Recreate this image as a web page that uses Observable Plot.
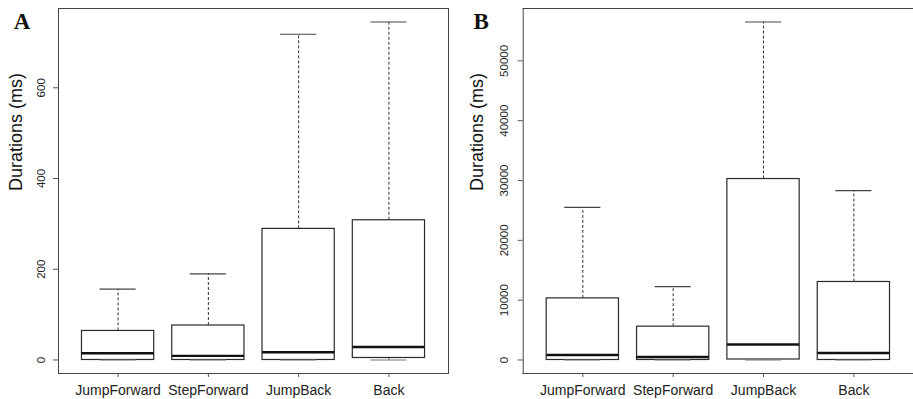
<!DOCTYPE html>
<html>
<head>
<meta charset="utf-8">
<script src="https://cdn.jsdelivr.net/npm/d3@7"></script>
<script src="https://cdn.jsdelivr.net/npm/@observablehq/plot@0.6"></script>
<style>
  html, body { margin: 0; padding: 0; background: #fff; }
  #wrap { display: flex; flex-direction: row; width: 913px; height: 399px; overflow: hidden; }
  svg { font-family: "Liberation Sans", Arial, sans-serif; }
</style>
</head>
<body>
<div id="wrap"></div>
<script>
// ---- data ----
const categories = ["JumpForward", "StepForward", "JumpBack", "Back"];

// Panel A (ms)
const aLow    = [0, 0, 0, 0];
const aQ1     = [0, 0, 0, 4.4];
const aMedian = [15, 9, 17, 28.5];
const aQ3     = [64, 76, 289, 308];
const aHigh   = [156, 190, 718, 745];
const aTicks  = [0, 200, 400, 600];

// Panel B (ms)
const bLow    = [0, 0, 0, 0];
const bQ1     = [0, 0, 80, 0];
const bMedian = [840, 500, 2600, 1170];
const bQ3     = [10300, 5570, 30250, 13040];
const bHigh   = [25500, 12250, 56500, 28300];
const bTicks  = [0, 10000, 20000, 30000, 40000, 50000];

const yLabel = "Durations (ms)";

function rowsFor(lo, q1, med, q3, hi) {
  return categories.map((c, i) => ({pos: i + 1, name: c, lo: lo[i], q1: q1[i], median: med[i], q3: q3[i], hi: hi[i]}));
}

function panel({rows, ticks, letter, width, marginLeft, marginRight, fullFrame, letterDx, labelDx, tickDx}) {
  const lo = d3.min(rows, d => d.lo), hi = d3.max(rows, d => d.hi);
  const pad = (hi - lo) * 0.04;
  const frames = fullFrame
    ? [Plot.frame({stroke: "#444"})]
    : [Plot.frame({anchor: "top", stroke: "#444"}), Plot.frame({anchor: "left", stroke: "#444"}), Plot.frame({anchor: "bottom", stroke: "#444"})];
  const svg = Plot.plot({
    width, height: 399,
    marginLeft, marginRight, marginTop: 8, marginBottom: 26,
    style: {color: "#222", background: "white", overflow: "visible"},
    x: {type: "linear", domain: [0.34, 4.66], axis: null, label: null},
    y: {type: "linear", domain: [lo - pad, hi + pad], axis: null, label: null},
    marks: [
      ...frames,
      Plot.axisX([1, 2, 3, 4], {tickSize: 4, tickPadding: 8, fontSize: 14, label: null, tickFormat: d => categories[d - 1], stroke: "#555"}),
      Plot.axisY(ticks, {tickSize: 5, label: null, tickFormat: () => "", stroke: "#555"}),
      Plot.text(ticks, {y: d => d, frameAnchor: "left", dx: tickDx, rotate: -90, textAnchor: "middle", lineAnchor: "middle",
        fontSize: 11.5, fill: "#222", text: d => String(d)}),
      // whiskers
      Plot.ruleX(rows, {x: "pos", y1: "q3", y2: "hi", stroke: "#333", strokeWidth: 1, strokeDasharray: "3,2"}),
      Plot.ruleX(rows, {x: "pos", y1: "lo", y2: "q1", stroke: "#333", strokeWidth: 1, strokeDasharray: "3,2"}),
      // boxes
      Plot.rect(rows, {x1: d => d.pos - 0.4, x2: d => d.pos + 0.4, y1: "q1", y2: "q3", fill: "white", stroke: "#2a2a2a", strokeWidth: 1.2}),
      // caps
      Plot.ruleY(rows, {y: "hi", x1: d => d.pos - 0.2, x2: d => d.pos + 0.2, stroke: "#444", strokeWidth: 1.2}),
      Plot.ruleY(rows, {y: "lo", x1: d => d.pos - 0.2, x2: d => d.pos + 0.2, stroke: "#777", strokeWidth: 1.2}),
      // medians
      Plot.ruleY(rows, {y: "median", x1: d => d.pos - 0.4, x2: d => d.pos + 0.4, stroke: "#111", strokeWidth: 2.4}),
      // y label
      Plot.text([yLabel], {frameAnchor: "left", rotate: -90, dx: labelDx, fontSize: 18, fill: "#111", text: d => d}),
      // panel letter
      Plot.text([letter], {frameAnchor: "top-left", dx: letterDx, dy: 13.5, textAnchor: "start", lineAnchor: "middle",
        fontSize: 23, fontWeight: "bold", fontFamily: "'Liberation Serif', 'DejaVu Serif', serif", fill: "#111", text: d => d})
    ]
  });
  return svg;
}

const wrap = document.getElementById("wrap");
wrap.appendChild(panel({
  rows: rowsFor(aLow, aQ1, aMedian, aQ3, aHigh), ticks: aTicks, letter: "A",
  width: 456, marginLeft: 58, marginRight: 8, fullFrame: true, letterDx: -44.7, labelDx: -42, tickDx: -17
}));
wrap.appendChild(panel({
  rows: rowsFor(bLow, bQ1, bMedian, bQ3, bHigh), ticks: bTicks, letter: "B",
  width: 457, marginLeft: 66.7, marginRight: 0, fullFrame: false, letterDx: -49.7, labelDx: -46, tickDx: -19
}));
</script>
</body>
</html>
